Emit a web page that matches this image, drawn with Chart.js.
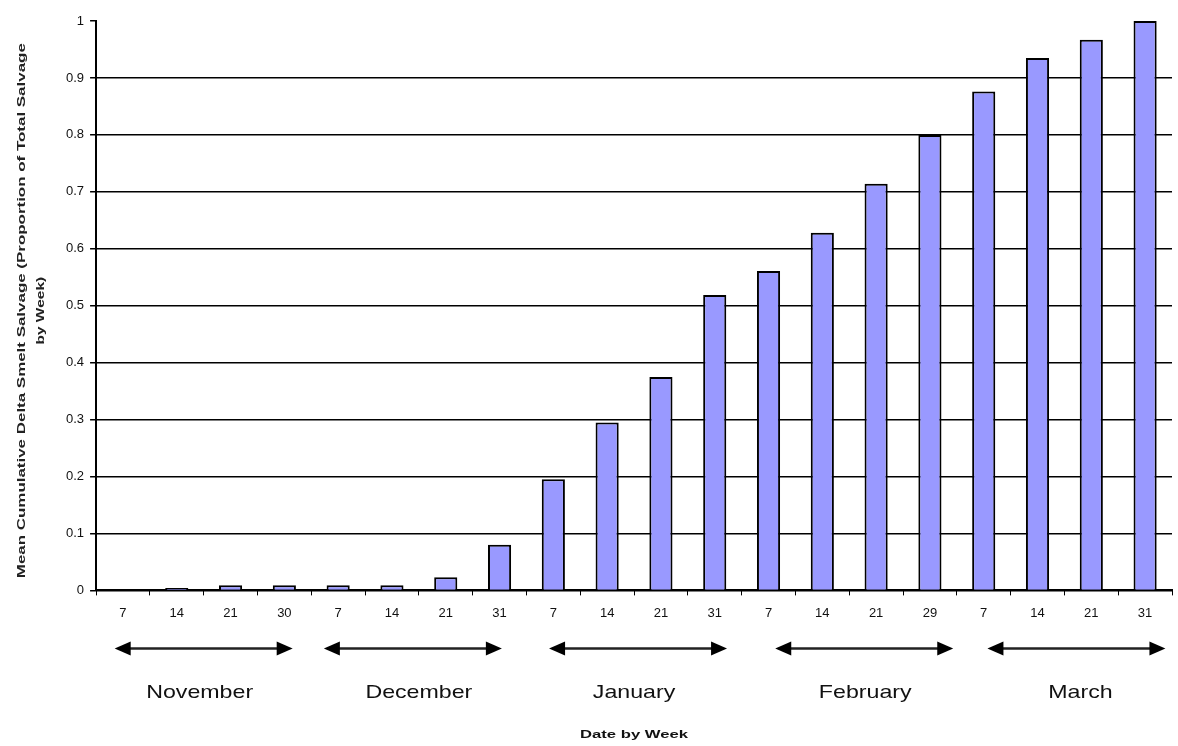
<!DOCTYPE html>
<html>
<head>
<meta charset="utf-8">
<script src="https://cdn.jsdelivr.net/npm/chart.js@4.4.1/dist/chart.umd.min.js"></script>
<style>
  html, body { margin: 0; padding: 0; background: #fff; }
  #wrap { width: 1178px; height: 746px; }
</style>
</head>
<body>
<div id="wrap"><canvas id="salvageChart" width="1178" height="746"></canvas></div>
<script>
// week labels (day of month) and the month each group of four belongs to
const weekDays = ['7', '14', '21', '30', '7', '14', '21', '31', '7', '14', '21', '31', '7', '14', '21', '29', '7', '14', '21', '31'];
const months = ['November', 'December', 'January', 'February', 'March'];
// mean cumulative proportion of total salvage
const cumulative = [0, 0.004, 0.009, 0.009, 0.009, 0.009, 0.023, 0.08, 0.195, 0.295, 0.375, 0.519, 0.561, 0.628, 0.714, 0.8, 0.876, 0.935, 0.967, 1.0];
const yTicks = [0, 0.1, 0.2, 0.3, 0.4, 0.5, 0.6, 0.7, 0.8, 0.9, 1];

const yTitle = ['Mean Cumulative Delta Smelt Salvage (Proportion of Total Salvage', 'by Week)'];
const xTitle = 'Date by Week';

// draws text squeezed/stretched horizontally so it fills a target width
function stretchText(ctx, text, x, y, font, width) {
  ctx.save();
  ctx.font = font;
  const w = ctx.measureText(text).width;
  ctx.translate(x, y);
  ctx.scale(width / w, 1);
  ctx.textAlign = 'center';
  ctx.textBaseline = 'middle';
  ctx.fillText(text, 0, 0);
  ctx.restore();
}

function arrow(ctx, x1, x2, y) {
  ctx.save();
  ctx.strokeStyle = '#222';
  ctx.fillStyle = '#000';
  ctx.lineWidth = 2.5;
  ctx.beginPath();
  ctx.moveTo(x1 + 10, y);
  ctx.lineTo(x2 - 10, y);
  ctx.stroke();
  ctx.beginPath();
  ctx.moveTo(x1, y);
  ctx.lineTo(x1 + 16, y - 7);
  ctx.lineTo(x1 + 16, y + 7);
  ctx.closePath();
  ctx.fill();
  ctx.beginPath();
  ctx.moveTo(x2, y);
  ctx.lineTo(x2 - 16, y - 7);
  ctx.lineTo(x2 - 16, y + 7);
  ctx.closePath();
  ctx.fill();
  ctx.restore();
}

const monthDecor = {
  id: 'monthDecor',
  afterDraw(chart) {
    const ctx = chart.ctx;
    const x = chart.scales.x;
    const area = chart.chartArea;
    const step = (x.getPixelForValue(1) - x.getPixelForValue(0));
    // hand-placed look of the original: arrows and names sit a bit off centre
    const arrowShift = [0, -6, 4, 15, 12];
    const nameShift = [-4, 0, 0, 16, 16];
    const monthFont = '19px "Liberation Sans", Arial, sans-serif';
    months.forEach((m, i) => {
      const left = x.getPixelForValue(i * 4) - step / 2;
      const right = x.getPixelForValue(i * 4 + 3) + step / 2;
      const mid = (left + right) / 2;
      arrow(ctx, mid + arrowShift[i] - 89, mid + arrowShift[i] + 89, area.bottom + 58);
      ctx.font = monthFont;
      const w = ctx.measureText(m).width * 1.22;
      ctx.fillStyle = '#111';
      stretchText(ctx, m, mid + nameShift[i], area.bottom + 102, monthFont, w);
    });
    // x title
    ctx.fillStyle = '#111';
    stretchText(ctx, xTitle, (area.left + area.right) / 2, area.bottom + 145, 'bold 10px "Liberation Sans", Arial, sans-serif', 108);
    // y title, rotated
    ctx.save();
    ctx.translate(22, (area.top + area.bottom) / 2 + 5);
    ctx.rotate(-Math.PI / 2);
    ctx.fillStyle = '#222';
    stretchText(ctx, yTitle[0], 0, 0, 'bold 10px "Liberation Sans", Arial, sans-serif', 535);
    ctx.font = 'bold 10px "Liberation Sans", Arial, sans-serif';
    const w2 = ctx.measureText(yTitle[1]).width * 1.55;
    stretchText(ctx, yTitle[1], 0, 19, 'bold 10px "Liberation Sans", Arial, sans-serif', w2);
    ctx.restore();
  }
};

new Chart(document.getElementById('salvageChart').getContext('2d'), {
  type: 'bar',
  data: {
    labels: weekDays,
    datasets: [{
      label: 'Cumulative salvage',
      data: cumulative,
      backgroundColor: '#9999ff',
      borderColor: '#000',
      borderWidth: 2,
      barPercentage: 0.43,
      categoryPercentage: 1.0
    }]
  },
  options: {
    responsive: false,
    animation: false,
    layout: { padding: { left: 60, right: 6, top: 21, bottom: 115 } },
    plugins: {
      legend: { display: false },
      tooltip: { enabled: false }
    },
    scales: {
      x: {
        offset: true,
        grid: { offset: true, drawOnChartArea: false, color: '#000', tickLength: 5 },
        border: { color: '#000', width: 2 },
        ticks: {
          color: '#111',
          padding: 10,
          maxRotation: 0,
          font: { size: 13, family: '"Liberation Sans", Arial, sans-serif' }
        }
      },
      y: {
        min: 0,
        max: 1,
        afterBuildTicks: (axis) => { axis.ticks = yTicks.map(v => ({ value: v })); },
        grid: {
          color: (c) => (c.tick && c.tick.value === 1 ? 'rgba(0,0,0,0)' : '#000'),
          tickColor: '#000',
          lineWidth: 1.5,
          tickLength: 6
        },
        border: { color: '#000', width: 2 },
        ticks: {
          color: '#111',
          padding: 6,
          font: { size: 13, family: '"Liberation Sans", Arial, sans-serif' },
          callback: (v) => String(Math.round(v * 10) / 10)
        }
      }
    }
  },
  plugins: [monthDecor]
});
</script>
</body>
</html>
